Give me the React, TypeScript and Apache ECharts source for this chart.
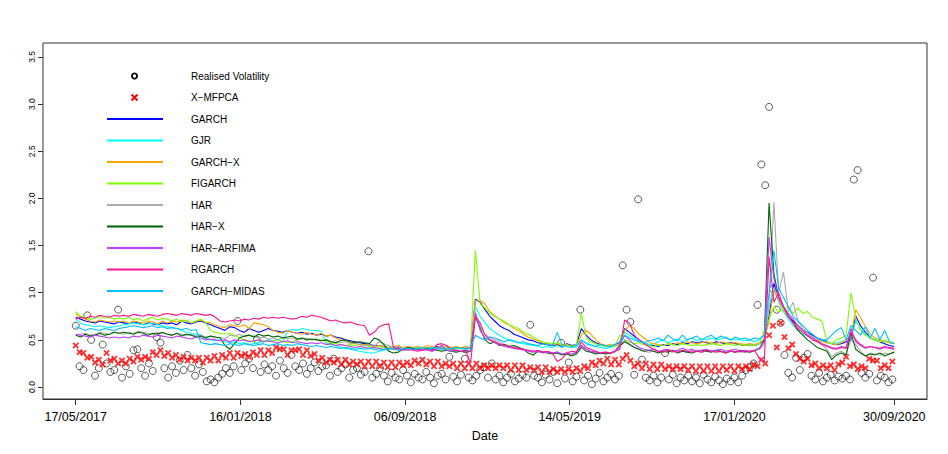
import React, { useEffect, useRef } from "react";
import * as echarts from "echarts";

// ---------- axis ticks ----------
const TICK_IDX = [0, 171, 342, 513, 684, 850];
const TICK_LABELS = ["17/05/2017", "16/01/2018", "06/09/2018", "14/05/2019", "17/01/2020", "30/09/2020"];
const Y_TICKS = [0, 0.5, 1, 1.5, 2, 2.5, 3, 3.5];

// point series: one value every 4 trading days; line series: one value every 5 trading days
const PT_STEP = 4;
const LN_STEP = 5;

const RV = [
  0.65, 0.22, 0.18, 0.76, 0.5, 0.12, 0.2, 0.45, 0.25, 0.16,
  0.18, 0.82, 0.1, 0.22, 0.14, 0.39, 0.4, 0.2, 0.12, 0.25,
  0.17, 0.53, 0.47, 0.2, 0.1, 0.22, 0.15, 0.28, 0.18, 0.34,
  0.2, 0.12, 0.24, 0.16, 0.06, 0.08, 0.05, 0.1, 0.14, 0.2,
  0.15, 0.22, 0.7, 0.18, 0.25, 0.3, 0.2, 0.5, 0.16, 0.24,
  0.18, 0.22, 0.12, 0.28, 0.2, 0.15, 0.34, 0.22, 0.18, 0.25,
  0.14, 0.2, 0.26, 0.17, 0.22, 0.23, 0.12, 0.3, 0.16, 0.2,
  0.24, 0.1, 0.18, 0.2, 0.13, 0.16, 1.44, 0.1, 0.14, 0.2,
  0.12, 0.06, 0.15, 0.1, 0.08, 0.18, 0.12, 0.05, 0.14, 0.1,
  0.08, 0.16, 0.1, 0.04, 0.12, 0.14, 0.08, 0.32, 0.11, 0.06,
  0.13, 0.3, 0.1, 0.07, 0.12, 0.18, 0.21, 0.1, 0.25, 0.08,
  0.12, 0.05, 0.1, 0.14, 0.06, 0.09, 0.13, 0.1, 0.66, 0.12,
  0.1, 0.05, 0.13, 0.08, 0.16, 0.04, 0.47, 0.09, 0.26, 0.06,
  0.11, 0.82, 0.07, 0.12, 0.03, 0.09, 0.15, 0.06, 0.1, 0.14,
  0.08, 0.12, 1.29, 0.82, 0.69, 0.13, 1.99, 0.29, 0.1, 0.07,
  0.12, 0.05, 0.1, 0.36, 0.08, 0.13, 0.04, 0.1, 0.07, 0.12,
  0.06, 0.1, 0.04, 0.13, 0.08, 0.05, 0.11, 0.07, 0.03, 0.09,
  0.06, 0.1, 0.05, 0.12, 0.18, 0.21, 0.25, 0.87, 2.36, 2.14,
  2.97, 1.04, 0.82, 0.68, 0.34, 0.15, 0.1, 0.31, 0.18, 0.31,
  0.35, 0.12, 0.08, 0.15, 0.06, 0.1, 0.13, 0.07, 0.11, 0.09,
  0.12, 0.08, 2.2, 2.3, 0.15, 0.1, 0.14, 1.16, 0.07, 0.12, 0.1, 0.05, 0.08,
];

const XMFPCA = [
  0.44, 0.37, 0.36, 0.31, 0.32, 0.26, 0.29, 0.24, 0.36, 0.28,
  0.3, 0.25, 0.28, 0.25, 0.3, 0.27, 0.32, 0.29, 0.32, 0.3,
  0.37, 0.34, 0.39, 0.33, 0.36, 0.31, 0.34, 0.29, 0.32, 0.28,
  0.31, 0.28, 0.31, 0.26, 0.31, 0.28, 0.33, 0.28, 0.34, 0.31,
  0.36, 0.31, 0.36, 0.33, 0.35, 0.32, 0.37, 0.34, 0.39, 0.34,
  0.39, 0.36, 0.42, 0.4, 0.4, 0.34, 0.39, 0.39, 0.4, 0.34,
  0.39, 0.33, 0.35, 0.28, 0.31, 0.26, 0.29, 0.26, 0.29, 0.24,
  0.29, 0.24, 0.27, 0.24, 0.27, 0.22, 0.27, 0.22, 0.27, 0.22,
  0.26, 0.21, 0.26, 0.21, 0.26, 0.23, 0.26, 0.23, 0.28, 0.25,
  0.29, 0.24, 0.27, 0.22, 0.27, 0.22, 0.25, 0.22, 0.25, 0.2,
  0.25, 0.2, 0.25, 0.2, 0.25, 0.2, 0.23, 0.2, 0.23, 0.2,
  0.23, 0.2, 0.23, 0.18, 0.23, 0.18, 0.23, 0.18, 0.21, 0.18,
  0.21, 0.16, 0.21, 0.16, 0.19, 0.16, 0.19, 0.16, 0.19, 0.16,
  0.2, 0.17, 0.22, 0.2, 0.26, 0.23, 0.28, 0.25, 0.3, 0.24,
  0.29, 0.24, 0.3, 0.34, 0.28, 0.22, 0.25, 0.2, 0.25, 0.19,
  0.24, 0.19, 0.24, 0.19, 0.22, 0.19, 0.22, 0.19, 0.22, 0.18,
  0.22, 0.17, 0.22, 0.17, 0.22, 0.17, 0.22, 0.17, 0.22, 0.18,
  0.22, 0.17, 0.22, 0.19, 0.22, 0.19, 0.24, 0.22, 0.29, 0.25,
  0.55, 0.65, 0.42, 0.68, 0.53, 0.41, 0.45, 0.35, 0.3, 0.27,
  0.3, 0.23, 0.25, 0.2, 0.23, 0.2, 0.23, 0.18, 0.24, 0.26,
  0.32, 0.22, 0.24, 0.19, 0.22, 0.2, 0.3, 0.28, 0.28, 0.2, 0.23, 0.2, 0.27,
];

const GARCH = [
  0.74, 0.72, 0.7, 0.69, 0.68, 0.7, 0.69, 0.68, 0.67, 0.69,
  0.68, 0.67, 0.69, 0.68, 0.66, 0.68, 0.67, 0.66, 0.68, 0.67,
  0.68, 0.66, 0.7, 0.68, 0.67, 0.69, 0.7, 0.68, 0.66, 0.64,
  0.62, 0.6, 0.64, 0.63, 0.6, 0.58, 0.62, 0.6, 0.58, 0.6,
  0.62, 0.6, 0.59, 0.58, 0.6, 0.58, 0.57, 0.58, 0.56, 0.57,
  0.55, 0.56, 0.54, 0.55, 0.53, 0.52, 0.5, 0.49, 0.48, 0.47,
  0.46, 0.45, 0.44, 0.44, 0.43, 0.42, 0.43, 0.42, 0.41, 0.42,
  0.41, 0.42, 0.41, 0.42, 0.41, 0.43, 0.42, 0.41, 0.42, 0.41,
  0.42, 0.41, 0.42, 0.93, 0.9, 0.82, 0.75, 0.7, 0.65, 0.62,
  0.6, 0.56, 0.54, 0.52, 0.5, 0.49, 0.47, 0.46, 0.45, 0.44,
  0.45, 0.43, 0.46, 0.44, 0.45, 0.62, 0.55, 0.5, 0.47, 0.45,
  0.44, 0.43, 0.45, 0.47, 0.62, 0.58, 0.54, 0.5, 0.47, 0.45,
  0.44, 0.43, 0.45, 0.44, 0.46, 0.45, 0.47, 0.46, 0.48, 0.47,
  0.48, 0.47, 0.46, 0.48, 0.47, 0.46, 0.47, 0.46, 0.45, 0.44,
  0.45, 0.44, 0.46, 0.5, 0.75, 1.1, 0.95, 0.85, 0.75, 0.7,
  0.65, 0.6, 0.58, 0.55, 0.52, 0.5, 0.48, 0.46, 0.45, 0.46,
  0.48, 0.5, 0.75, 0.65, 0.58, 0.52, 0.5, 0.48, 0.46, 0.44, 0.43,
];

const GJR = [
  0.72, 0.68, 0.66, 0.65, 0.64, 0.65, 0.64, 0.63, 0.64, 0.65,
  0.66, 0.67, 0.68, 0.67, 0.66, 0.67, 0.68, 0.66, 0.65, 0.64,
  0.63, 0.62, 0.6, 0.58, 0.57, 0.56, 0.55, 0.52, 0.5, 0.49,
  0.5, 0.48, 0.47, 0.48, 0.46, 0.47, 0.45, 0.46, 0.47, 0.48,
  0.5, 0.49, 0.5, 0.48, 0.6, 0.61, 0.6, 0.62, 0.61, 0.6,
  0.6, 0.59, 0.46, 0.45, 0.44, 0.42, 0.41, 0.4, 0.39, 0.38,
  0.37, 0.36, 0.36, 0.38, 0.39, 0.4, 0.41, 0.4, 0.41, 0.42,
  0.41, 0.42, 0.4, 0.41, 0.42, 0.41, 0.4, 0.41, 0.4, 0.4,
  0.41, 0.4, 0.41, 0.85, 0.75, 0.68, 0.62, 0.58, 0.55, 0.52,
  0.5, 0.48, 0.47, 0.46, 0.45, 0.44, 0.43, 0.42, 0.43, 0.42,
  0.44, 0.42, 0.45, 0.43, 0.42, 0.5, 0.47, 0.45, 0.43, 0.42,
  0.41, 0.42, 0.44, 0.45, 0.58, 0.55, 0.52, 0.49, 0.47, 0.45,
  0.46, 0.48, 0.5, 0.47, 0.49, 0.51, 0.48, 0.5, 0.52, 0.49,
  0.51, 0.5, 0.52, 0.5, 0.51, 0.53, 0.5, 0.51, 0.5, 0.49,
  0.5, 0.48, 0.5, 0.55, 0.85, 1.05, 0.9, 0.8, 0.72, 0.65,
  0.6, 0.56, 0.54, 0.52, 0.5, 0.49, 0.47, 0.46, 0.47, 0.48,
  0.5, 0.52, 0.7, 0.62, 0.56, 0.52, 0.5, 0.49, 0.48, 0.47, 0.46,
];

const GARCH_X = [
  0.78, 0.74, 0.72, 0.7, 0.69, 0.71, 0.7, 0.69, 0.7, 0.69,
  0.7, 0.68, 0.7, 0.69, 0.68, 0.7, 0.69, 0.67, 0.7, 0.68,
  0.7, 0.69, 0.71, 0.7, 0.68, 0.7, 0.71, 0.69, 0.68, 0.66,
  0.64, 0.63, 0.66, 0.65, 0.64, 0.66, 0.62, 0.68, 0.67, 0.66,
  0.64, 0.6, 0.58, 0.57, 0.6, 0.58, 0.57, 0.56, 0.58, 0.56,
  0.55, 0.57, 0.54, 0.55, 0.52, 0.5, 0.49, 0.47, 0.46, 0.45,
  0.45, 0.44, 0.43, 0.44, 0.43, 0.42, 0.43, 0.44, 0.42, 0.43,
  0.42, 0.43, 0.42, 0.44, 0.43, 0.42, 0.44, 0.43, 0.42, 0.43,
  0.42, 0.43, 0.42, 0.92, 0.92, 0.88, 0.8, 0.76, 0.72, 0.68,
  0.66, 0.62, 0.6, 0.56, 0.53, 0.51, 0.49, 0.47, 0.46, 0.45,
  0.46, 0.44, 0.45, 0.43, 0.44, 0.55, 0.6, 0.56, 0.5, 0.46,
  0.44, 0.45, 0.44, 0.46, 0.6, 0.65, 0.62, 0.56, 0.52, 0.48,
  0.46, 0.45, 0.44, 0.46, 0.45, 0.47, 0.46, 0.48, 0.47, 0.46,
  0.47, 0.48, 0.47, 0.46, 0.48, 0.47, 0.46, 0.47, 0.46, 0.45,
  0.46, 0.45, 0.47, 0.5, 0.7, 1.03, 0.92, 0.82, 0.74, 0.68,
  0.64, 0.6, 0.56, 0.53, 0.5, 0.48, 0.47, 0.46, 0.45, 0.47,
  0.5, 0.55, 0.82, 0.74, 0.64, 0.56, 0.52, 0.5, 0.48, 0.47, 0.46,
];

const FIGARCH = [
  0.8, 0.75, 0.74, 0.72, 0.73, 0.75, 0.73, 0.74, 0.72, 0.73,
  0.72, 0.74, 0.71, 0.73, 0.7, 0.72, 0.74, 0.71, 0.73, 0.72,
  0.7, 0.72, 0.69, 0.71, 0.68, 0.7, 0.72, 0.68, 0.6, 0.58,
  0.57, 0.56, 0.57, 0.55, 0.52, 0.5, 0.49, 0.48, 0.5, 0.49,
  0.48, 0.49, 0.5, 0.48, 0.47, 0.48, 0.5, 0.52, 0.51, 0.5,
  0.51, 0.5, 0.48, 0.47, 0.46, 0.45, 0.44, 0.45, 0.44, 0.43,
  0.44, 0.43, 0.42, 0.43, 0.42, 0.41, 0.42, 0.41, 0.42, 0.41,
  0.41, 0.42, 0.41, 0.42, 0.4, 0.41, 0.42, 0.41, 0.4, 0.41,
  0.41, 0.4, 0.42, 1.45, 0.88, 0.84, 0.78, 0.75, 0.72, 0.7,
  0.66, 0.64, 0.62, 0.58, 0.56, 0.53, 0.5, 0.48, 0.47, 0.46,
  0.47, 0.45, 0.44, 0.43, 0.45, 0.78, 0.52, 0.48, 0.46, 0.44,
  0.43, 0.44, 0.43, 0.55, 0.5, 0.48, 0.46, 0.47, 0.45, 0.44,
  0.43, 0.45, 0.44, 0.46, 0.45, 0.44, 0.46, 0.45, 0.44, 0.45,
  0.44, 0.45, 0.46, 0.45, 0.44, 0.46, 0.45, 0.44, 0.45, 0.44,
  0.45, 0.44, 0.46, 0.6, 0.72, 0.85, 0.8, 0.82, 0.85, 0.78,
  0.84, 0.78, 0.8, 0.74, 0.72, 0.7, 0.48, 0.46, 0.5, 0.52,
  0.55, 1.0, 0.72, 0.6, 0.55, 0.52, 0.5, 0.48, 0.5, 0.47, 0.48,
];

const HAR = [
  0.55, 0.56, 0.57, 0.55, 0.56, 0.58, 0.57, 0.56, 0.58, 0.57,
  0.56, 0.58, 0.57, 0.59, 0.58, 0.57, 0.56, 0.58, 0.57, 0.56,
  0.55, 0.57, 0.56, 0.55, 0.56, 0.54, 0.55, 0.53, 0.54, 0.52,
  0.53, 0.51, 0.55, 0.54, 0.56, 0.53, 0.55, 0.54, 0.52, 0.53,
  0.51, 0.52, 0.5, 0.53, 0.51, 0.52, 0.5, 0.51, 0.52, 0.5,
  0.51, 0.49, 0.5, 0.48, 0.49, 0.47, 0.48, 0.46, 0.47, 0.45,
  0.44, 0.45, 0.43, 0.48, 0.46, 0.44, 0.42, 0.43, 0.41, 0.42,
  0.41, 0.4, 0.42, 0.41, 0.4, 0.41, 0.39, 0.4, 0.38, 0.39,
  0.38, 0.36, 0.38, 0.8, 0.65, 0.56, 0.52, 0.5, 0.48, 0.45,
  0.44, 0.42, 0.41, 0.4, 0.39, 0.38, 0.37, 0.38, 0.37, 0.36,
  0.37, 0.35, 0.36, 0.34, 0.36, 0.45, 0.4, 0.38, 0.36, 0.35,
  0.36, 0.35, 0.37, 0.42, 0.5, 0.46, 0.42, 0.4, 0.38, 0.37,
  0.38, 0.37, 0.39, 0.38, 0.37, 0.39, 0.38, 0.37, 0.39, 0.38,
  0.37, 0.38, 0.39, 0.38, 0.37, 0.38, 0.39, 0.38, 0.37, 0.38,
  0.37, 0.38, 0.4, 0.45, 0.9, 1.96, 1.0, 1.22, 0.8, 0.9,
  0.7, 0.62, 0.58, 0.52, 0.48, 0.45, 0.4, 0.32, 0.36, 0.38,
  0.35, 0.5, 0.45, 0.38, 0.33, 0.36, 0.35, 0.34, 0.36, 0.35, 0.37,
];

const HAR_X = [
  0.55, 0.53, 0.56, 0.54, 0.55, 0.57, 0.55, 0.56, 0.58, 0.57,
  0.58, 0.57, 0.56, 0.58, 0.57, 0.55, 0.57, 0.56, 0.58, 0.56,
  0.55, 0.57, 0.54, 0.56, 0.55, 0.53, 0.54, 0.52, 0.54, 0.53,
  0.52, 0.44, 0.4, 0.46, 0.52, 0.54, 0.55, 0.53, 0.56, 0.54,
  0.55, 0.53, 0.54, 0.52, 0.53, 0.54, 0.51, 0.52, 0.5, 0.51,
  0.5, 0.49, 0.5, 0.48, 0.47, 0.49, 0.5, 0.48, 0.47, 0.48,
  0.47, 0.46, 0.52, 0.5, 0.45, 0.38, 0.36, 0.37, 0.4, 0.42,
  0.41, 0.4, 0.39, 0.41, 0.4, 0.39, 0.38, 0.39, 0.38, 0.37,
  0.38, 0.37, 0.38, 0.75, 0.62, 0.5, 0.46, 0.48, 0.44, 0.45,
  0.43, 0.44, 0.42, 0.4, 0.36, 0.34, 0.38, 0.37, 0.36, 0.35,
  0.36, 0.34, 0.35, 0.33, 0.35, 0.42, 0.38, 0.37, 0.35, 0.36,
  0.35, 0.36, 0.38, 0.44, 0.48, 0.45, 0.42, 0.4, 0.38, 0.39,
  0.38, 0.36, 0.38, 0.37, 0.39, 0.36, 0.38, 0.37, 0.36, 0.38,
  0.39, 0.38, 0.37, 0.39, 0.38, 0.36, 0.38, 0.37, 0.39, 0.38,
  0.37, 0.39, 0.41, 0.5, 1.95, 1.2, 0.95, 0.85, 0.75, 0.68,
  0.6, 0.55, 0.5, 0.46, 0.42, 0.4, 0.38, 0.29, 0.34, 0.36,
  0.34, 0.58, 0.4, 0.36, 0.33, 0.35, 0.34, 0.36, 0.33, 0.35, 0.37,
];

const HAR_ARFIMA = [
  0.56, 0.55, 0.54, 0.53, 0.55, 0.54, 0.53, 0.52, 0.53, 0.52,
  0.53, 0.52, 0.54, 0.53, 0.55, 0.54, 0.53, 0.55, 0.54, 0.53,
  0.52, 0.54, 0.53, 0.52, 0.51, 0.53, 0.52, 0.5, 0.51, 0.5,
  0.49, 0.5, 0.48, 0.5, 0.49, 0.5, 0.48, 0.49, 0.5, 0.48,
  0.49, 0.48, 0.47, 0.48, 0.49, 0.47, 0.48, 0.47, 0.46, 0.47,
  0.46, 0.47, 0.45, 0.46, 0.44, 0.45, 0.44, 0.43, 0.42, 0.43,
  0.42, 0.41, 0.42, 0.41, 0.4, 0.41, 0.4, 0.41, 0.4, 0.39,
  0.4, 0.39, 0.4, 0.39, 0.38, 0.4, 0.44, 0.39, 0.38, 0.39,
  0.38, 0.39, 0.38, 0.78, 0.6, 0.52, 0.5, 0.47, 0.45, 0.43,
  0.42, 0.41, 0.4, 0.39, 0.38, 0.37, 0.38, 0.36, 0.37, 0.36,
  0.37, 0.35, 0.36, 0.35, 0.37, 0.44, 0.4, 0.38, 0.37, 0.36,
  0.37, 0.36, 0.38, 0.45, 0.55, 0.5, 0.45, 0.42, 0.4, 0.39,
  0.4, 0.38, 0.39, 0.4, 0.38, 0.39, 0.41, 0.39, 0.4, 0.38,
  0.39, 0.4, 0.38, 0.39, 0.4, 0.38, 0.39, 0.4, 0.38, 0.39,
  0.38, 0.39, 0.41, 0.48, 1.59, 1.15, 0.95, 0.85, 0.78, 0.72,
  0.65, 0.6, 0.55, 0.52, 0.49, 0.46, 0.44, 0.42, 0.41, 0.43,
  0.42, 0.62, 0.48, 0.44, 0.41, 0.43, 0.42, 0.4, 0.42, 0.41, 0.4,
];

const RGARCH = [
  0.72, 0.74, 0.73, 0.75, 0.74, 0.76, 0.75, 0.74, 0.76, 0.75,
  0.76, 0.75, 0.77, 0.76, 0.75, 0.77, 0.76, 0.75, 0.77, 0.78,
  0.77, 0.76, 0.78, 0.77, 0.76, 0.78, 0.77, 0.76, 0.77, 0.74,
  0.7, 0.69, 0.7, 0.71, 0.7, 0.72, 0.71, 0.73, 0.72, 0.74,
  0.73, 0.74, 0.73, 0.74, 0.73, 0.72, 0.73, 0.75, 0.74, 0.76,
  0.75, 0.74, 0.72, 0.7, 0.71, 0.69, 0.68, 0.69, 0.67, 0.66,
  0.65, 0.55, 0.58, 0.64, 0.66, 0.67, 0.42, 0.4, 0.39, 0.4,
  0.39, 0.38, 0.39, 0.4, 0.38, 0.45, 0.46, 0.44, 0.4, 0.39,
  0.38, 0.39, 0.25, 0.74, 0.68, 0.55, 0.5, 0.48, 0.46, 0.44,
  0.43, 0.42, 0.41, 0.4, 0.39, 0.38, 0.39, 0.37, 0.38, 0.36,
  0.27, 0.3, 0.36, 0.38, 0.37, 0.48, 0.42, 0.4, 0.38, 0.36,
  0.37, 0.36, 0.38, 0.4, 0.71, 0.68, 0.55, 0.5, 0.46, 0.43,
  0.4, 0.38, 0.37, 0.39, 0.38, 0.37, 0.39, 0.38, 0.37, 0.38,
  0.37, 0.39, 0.38, 0.37, 0.38, 0.36, 0.38, 0.37, 0.38, 0.37,
  0.38, 0.39, 0.3, 0.27, 1.38, 0.9, 1.0, 0.85, 0.75, 0.68,
  0.62, 0.58, 0.54, 0.5, 0.48, 0.45, 0.43, 0.41, 0.4, 0.42,
  0.41, 0.58, 0.5, 0.45, 0.42, 0.43, 0.42, 0.41, 0.43, 0.42, 0.41,
];

const GARCH_MIDAS = [
  0.64, 0.62, 0.6, 0.62, 0.61, 0.6, 0.62, 0.61, 0.6, 0.62,
  0.63, 0.64, 0.65, 0.64, 0.63, 0.64, 0.65, 0.63, 0.64, 0.62,
  0.63, 0.62, 0.61, 0.62, 0.6, 0.61, 0.47, 0.46, 0.45, 0.46,
  0.45, 0.44, 0.46, 0.45, 0.44, 0.46, 0.45, 0.44, 0.45, 0.46,
  0.44, 0.45, 0.46, 0.44, 0.45, 0.44, 0.46, 0.45, 0.44, 0.43,
  0.44, 0.43, 0.42, 0.43, 0.42, 0.41, 0.42, 0.41, 0.4, 0.41,
  0.4, 0.41, 0.4, 0.39, 0.4, 0.41, 0.4, 0.39, 0.4, 0.41,
  0.4, 0.41, 0.42, 0.4, 0.41, 0.42, 0.41, 0.4, 0.41, 0.42,
  0.41, 0.4, 0.42, 0.55, 0.52, 0.5, 0.53, 0.52, 0.5, 0.48,
  0.5, 0.49, 0.47, 0.48, 0.46, 0.45, 0.44, 0.46, 0.45, 0.44,
  0.58, 0.45, 0.43, 0.42, 0.44, 0.5, 0.46, 0.44, 0.43, 0.45,
  0.44, 0.43, 0.45, 0.48, 0.55, 0.52, 0.5, 0.48, 0.47, 0.49,
  0.5, 0.52, 0.49, 0.55, 0.51, 0.49, 0.55, 0.5, 0.52, 0.54,
  0.5, 0.53, 0.55, 0.51, 0.54, 0.52, 0.5, 0.53, 0.51, 0.52,
  0.5, 0.52, 0.51, 0.55, 1.0, 1.45, 1.05, 0.95, 0.85, 0.75,
  0.7, 0.65, 0.6, 0.56, 0.52, 0.5, 0.5, 0.55, 0.6, 0.63,
  0.5, 0.65, 0.6, 0.55, 0.64, 0.52, 0.62, 0.5, 0.6, 0.48, 0.46,
];

const LINE_SERIES = [
  { name: "GARCH", data: GARCH, color: "#0000FF" },
  { name: "GJR", data: GJR, color: "#00FFFF" },
  { name: "GARCH\u2212X", data: GARCH_X, color: "#FFA500" },
  { name: "FIGARCH", data: FIGARCH, color: "#7FFF00" },
  { name: "HAR", data: HAR, color: "#ABABAB" },
  { name: "HAR\u2212X", data: HAR_X, color: "#006400" },
  { name: "HAR\u2212ARFIMA", data: HAR_ARFIMA, color: "#BF3EFF" },
  { name: "RGARCH", data: RGARCH, color: "#FF1493" },
  { name: "GARCH\u2212MIDAS", data: GARCH_MIDAS, color: "#00BFFF" },
];

const FONT = "'Liberation Sans', Arial, Helvetica, sans-serif";
const X_PATH = "path://M0,2 L2,0 L5,3 L8,0 L10,2 L7,5 L10,8 L8,10 L5,7 L2,10 L0,8 L3,5 Z";

const toPairs = (arr: number[], step: number) => arr.map((v, k) => [k * step, v]);

export default function App() {
  const ref = useRef<HTMLDivElement>(null);

  useEffect(() => {
    document.body.style.margin = "0";
    if (!ref.current) return;
    const chart = echarts.init(ref.current, undefined, { renderer: "svg" });

    const legendX0 = 107;
    const legendX1 = 163;
    const legendSym = 134.5;
    const legendText = 191;
    const rowY = (k: number) => 76 + k * 21.5;

    const legendGraphics: any[] = [];
    legendGraphics.push({
      type: "circle",
      shape: { cx: legendSym, cy: rowY(0), r: 2.6 },
      style: { fill: "none", stroke: "#000", lineWidth: 1.8 },
    });
    legendGraphics.push({
      type: "text",
      x: legendText,
      y: rowY(0),
      style: { text: "Realised Volatility", fontSize: 10, fontFamily: FONT, fill: "#000", verticalAlign: "middle" },
    });
    const cx = legendSym;
    const cy = rowY(1);
    legendGraphics.push({
      type: "line",
      shape: { x1: cx - 3, y1: cy - 3, x2: cx + 3, y2: cy + 3 },
      style: { stroke: "#FF0000", lineWidth: 2 },
    });
    legendGraphics.push({
      type: "line",
      shape: { x1: cx - 3, y1: cy + 3, x2: cx + 3, y2: cy - 3 },
      style: { stroke: "#FF0000", lineWidth: 2 },
    });
    legendGraphics.push({
      type: "text",
      x: legendText,
      y: rowY(1),
      style: { text: "X\u2212MFPCA", fontSize: 10, fontFamily: FONT, fill: "#000", verticalAlign: "middle" },
    });
    LINE_SERIES.forEach((s, k) => {
      const y = rowY(k + 2);
      legendGraphics.push({
        type: "line",
        shape: { x1: legendX0, y1: y, x2: legendX1, y2: y },
        style: { stroke: s.color, lineWidth: 2 },
      });
      legendGraphics.push({
        type: "text",
        x: legendText,
        y,
        style: { text: s.name, fontSize: 10, fontFamily: FONT, fill: "#000", verticalAlign: "middle" },
      });
    });

    const option: any = {
      animation: false,
      backgroundColor: "#fff",
      textStyle: { fontFamily: FONT },
      grid: {
        left: 43,
        top: 43,
        right: 21,
        bottom: 55,
        show: true,
        borderColor: "#333",
        borderWidth: 1,
        backgroundColor: "transparent",
      },
      xAxis: {
        type: "value",
        min: -34,
        max: 884,
        splitLine: { show: false },
        axisLine: { show: true, onZero: false, lineStyle: { color: "#333" } },
        axisTick: { show: true, length: 6, customValues: TICK_IDX, lineStyle: { color: "#333" } },
        axisLabel: {
          customValues: TICK_IDX,
          formatter: (v: number) => {
            const k = TICK_IDX.indexOf(Math.round(v));
            return k >= 0 ? TICK_LABELS[k] : "";
          },
          fontSize: 12.5,
          color: "#000",
          margin: 11,
          fontFamily: FONT,
        },
        name: "Date",
        nameLocation: "middle",
        nameGap: 30,
        nameTextStyle: { fontSize: 12.5, color: "#000", fontFamily: FONT },
      },
      yAxis: {
        type: "value",
        min: -0.127,
        max: 3.648,
        splitLine: { show: false },
        axisLine: { show: false, onZero: false },
        axisTick: { show: true, length: 5, customValues: Y_TICKS, lineStyle: { color: "#333" } },
        axisLabel: {
          customValues: Y_TICKS,
          rotate: 90,
          fontSize: 8.5,
          color: "#000",
          margin: 7,
          fontFamily: FONT,
          formatter: (v: number) => v.toFixed(1),
        },
      },
      series: [
        {
          name: "Realised Volatility",
          type: "scatter",
          data: toPairs(RV, PT_STEP),
          symbol: "circle",
          symbolSize: 7,
          itemStyle: { color: "rgba(0,0,0,0)", borderColor: "#000", borderWidth: 0.8 },
          silent: true,
        },
        {
          name: "X\u2212MFPCA",
          type: "scatter",
          data: toPairs(XMFPCA, PT_STEP),
          symbol: X_PATH,
          symbolSize: 6.5,
          itemStyle: { color: "#FF0000" },
          silent: true,
        },
        ...LINE_SERIES.map((s) => ({
          name: s.name,
          type: "line",
          data: toPairs(s.data, LN_STEP),
          showSymbol: false,
          symbol: "none",
          lineStyle: { color: s.color, width: 1.1 },
          itemStyle: { color: s.color },
          silent: true,
        })),
      ],
      graphic: legendGraphics,
    };

    chart.setOption(option);
    return () => chart.dispose();
  }, []);

  return <div ref={ref} style={{ width: 948, height: 454 }} />;
}
